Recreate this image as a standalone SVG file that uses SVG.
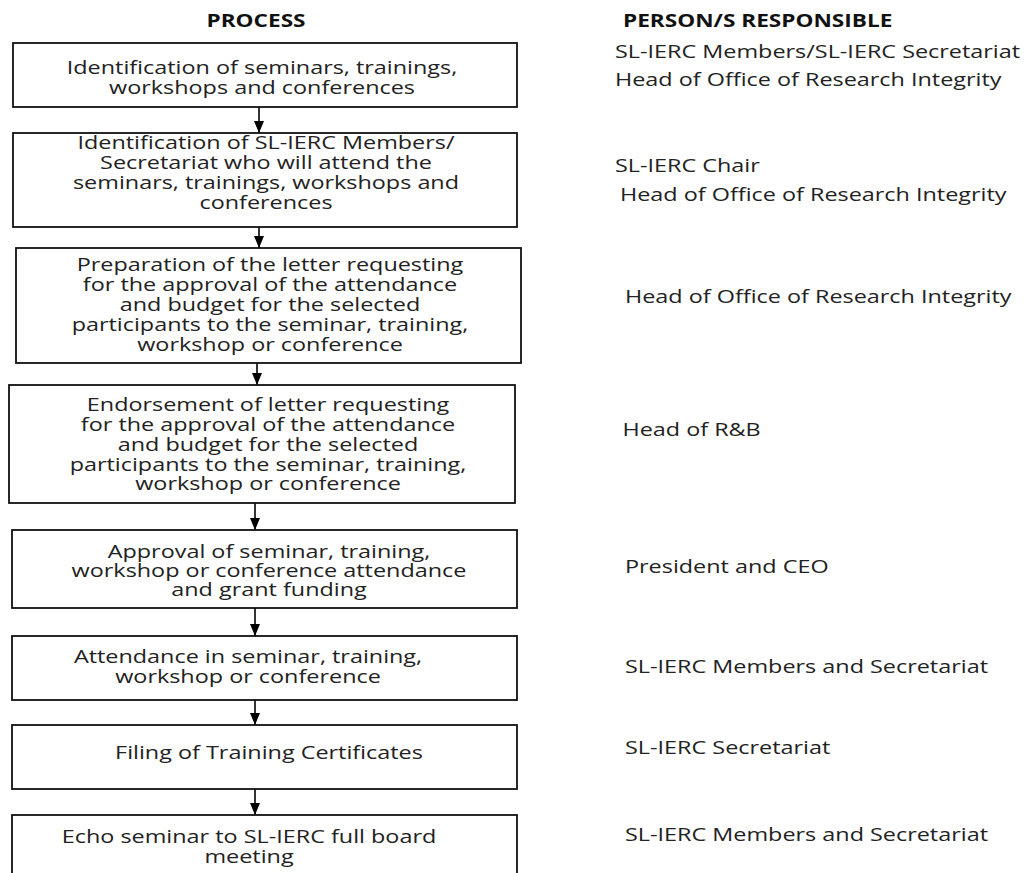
<svg xmlns="http://www.w3.org/2000/svg" width="1024" height="873" viewBox="0 0 1024 873">
  <style>
    .box { fill: #ffffff; stroke: #111111; stroke-width: 1.8; }
    .t { font-family: "Open Sans", "Liberation Sans", sans-serif; font-size: 18px; fill: #222222; }
    .c { text-anchor: middle; }
    .h { font-family: "Open Sans", "Liberation Sans", sans-serif; font-size: 17px; font-weight: bold; fill: #111111; }
    .link { stroke: #000000; stroke-width: 1.6; fill: none; marker-end: url(#arrow); }
  </style>
  <defs>
    <marker id="arrow" viewBox="0 0 12 10" refX="12" refY="5" markerWidth="12" markerHeight="10" markerUnits="userSpaceOnUse" orient="auto">
      <path d="M0,0 L12,5 L0,10 z" fill="#000000"/>
    </marker>
  </defs>
  <rect width="1024" height="873" fill="#ffffff"/>

  <!-- column headings (wide type, scaled horizontally) -->
  <g transform="translate(256,27) scale(1.33,1)"><text class="h c" x="0" y="0">PROCESS</text></g>
  <g transform="translate(623,27) scale(1.33,1)"><text class="h" x="0" y="0">PERSON/S RESPONSIBLE</text></g>

  <!-- connectors -->
  <g id="connectors">
    <line class="link" x1="259" y1="107" x2="259" y2="133"/>
    <line class="link" x1="259" y1="227" x2="259" y2="248"/>
    <line class="link" x1="257" y1="363" x2="257" y2="385"/>
    <line class="link" x1="255" y1="503" x2="255" y2="530"/>
    <line class="link" x1="255" y1="608" x2="255" y2="636"/>
    <line class="link" x1="255" y1="700" x2="255" y2="725"/>
    <line class="link" x1="255" y1="789" x2="255" y2="815"/>
  </g>

  <g id="step1">
    <rect class="box" x="13" y="43" width="504" height="64"/>
    <g transform="translate(262,0) scale(1.3,1)">
      <text class="t c" x="0" y="74">Identification of seminars, trainings,</text>
      <text class="t c" x="0" y="94">workshops and conferences</text>
    </g>
  </g>

  <g id="step2">
    <rect class="box" x="13" y="133" width="504" height="94"/>
    <g transform="translate(266,0) scale(1.3,1)">
      <text class="t c" x="0" y="149">Identification of SL-IERC Members/</text>
      <text class="t c" x="0" y="169">Secretariat who will attend the</text>
      <text class="t c" x="0" y="189">seminars, trainings, workshops and</text>
      <text class="t c" x="0" y="209">conferences</text>
    </g>
  </g>

  <g id="step3">
    <rect class="box" x="16" y="248" width="505" height="115"/>
    <g transform="translate(270,0) scale(1.3,1)">
      <text class="t c" x="0" y="271">Preparation of the letter requesting</text>
      <text class="t c" x="0" y="291">for the approval of the attendance</text>
      <text class="t c" x="0" y="311">and budget for the selected</text>
      <text class="t c" x="0" y="331">participants to the seminar, training,</text>
      <text class="t c" x="0" y="351">workshop or conference</text>
    </g>
  </g>

  <g id="step4">
    <rect class="box" x="9" y="385" width="506" height="118"/>
    <g transform="translate(268,0) scale(1.3,1)">
      <text class="t c" x="0" y="411">Endorsement of letter requesting</text>
      <text class="t c" x="0" y="431">for the approval of the attendance</text>
      <text class="t c" x="0" y="451">and budget for the selected</text>
      <text class="t c" x="0" y="471">participants to the seminar, training,</text>
      <text class="t c" x="0" y="490">workshop or conference</text>
    </g>
  </g>

  <g id="step5">
    <rect class="box" x="12" y="530" width="505" height="78"/>
    <g transform="translate(269,0) scale(1.3,1)">
      <text class="t c" x="0" y="558">Approval of seminar, training,</text>
      <text class="t c" x="0" y="577">workshop or conference attendance</text>
      <text class="t c" x="0" y="596">and grant funding</text>
    </g>
  </g>

  <g id="step6">
    <rect class="box" x="12" y="636" width="505" height="64"/>
    <g transform="translate(248,0) scale(1.3,1)">
      <text class="t c" x="0" y="663">Attendance in seminar, training,</text>
      <text class="t c" x="0" y="683">workshop or conference</text>
    </g>
  </g>

  <g id="step7">
    <rect class="box" x="12" y="725" width="505" height="64"/>
    <g transform="translate(269,0) scale(1.3,1)">
      <text class="t c" x="0" y="759">Filing of Training Certificates</text>
    </g>
  </g>

  <g id="step8">
    <rect class="box" x="12" y="815" width="505" height="70"/>
    <g transform="translate(249,0) scale(1.3,1)">
      <text class="t c" x="0" y="843">Echo seminar to SL-IERC full board</text>
      <text class="t c" x="0" y="863">meeting</text>
    </g>
  </g>

  <!-- responsible persons -->
  <g id="persons">
    <g transform="translate(615,0) scale(1.3,1)">
      <text class="t" x="0" y="58">SL-IERC Members/SL-IERC Secretariat</text>
      <text class="t" x="0" y="86">Head of Office of Research Integrity</text>
      <text class="t" x="0" y="172">SL-IERC Chair</text>
    </g>
    <g transform="translate(620,0) scale(1.3,1)">
      <text class="t" x="0" y="201">Head of Office of Research Integrity</text>
    </g>
    <g transform="translate(625,0) scale(1.3,1)">
      <text class="t" x="0" y="303">Head of Office of Research Integrity</text>
      <text class="t" x="-2" y="436">Head of R&amp;B</text>
      <text class="t" x="0" y="573">President and CEO</text>
      <text class="t" x="0" y="673">SL-IERC Members and Secretariat</text>
      <text class="t" x="0" y="754">SL-IERC Secretariat</text>
      <text class="t" x="0" y="841">SL-IERC Members and Secretariat</text>
    </g>
  </g>
</svg>
